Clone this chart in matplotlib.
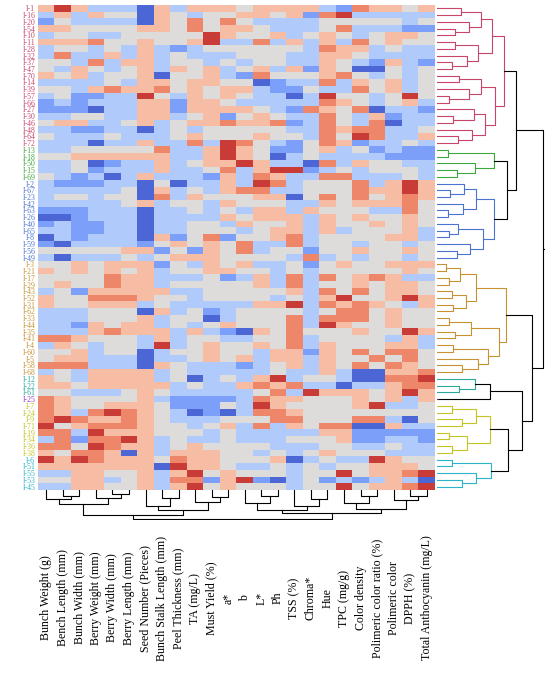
import numpy as np
import matplotlib
matplotlib.use("Agg")
import matplotlib.pyplot as plt

# ---- data: row labels (in plotted order), clusters and columns ----
row_labels = ["I-1", "I-16", "I-20", "I-54", "I-10", "I-11", "I-28", "I-32", "I-37", "I-47",
              "I-70", "I-14", "I-39", "I-57", "I-66", "I-27", "I-30", "I-46", "I-48", "I-64",
              "I-72",
              "I-13", "I-18", "I-50", "I-15", "I-69",
              "I-2", "I-67", "I-23", "I-42", "I-63", "I-26", "I-40", "I-65", "I-8", "I-59",
              "I-56", "I-49",
              "I-3", "I-21", "I-17", "I-29", "I-43", "I-52", "I-31", "I-62", "I-33", "I-44",
              "I-35", "I-41", "I-4", "I-60", "I-5", "I-58", "I-68",
              "I-12", "I-22", "I-61",
              "I-25",
              "I-7", "I-24", "I-9", "I-71", "I-19", "I-34", "I-36", "I-38",
              "I-6", "I-51", "I-55", "I-53", "I-45"]
cluster_sizes = [21, 5, 12, 17, 3, 1, 8, 5]
cluster_colors = ["#c8466a", "#3fa63f", "#4a74d0", "#c89234", "#2aa89a", "#9a35c4", "#c4c424", "#2cb4c8"]

col_labels = ["Bunch Weight (g)", "Bench Length (mm)", "Bunch Width (mm)", "Berry Weight (mm)",
              "Berry Width (mm)", "Berry Length (mm)", "Seed Number (Pieces)",
              "Bunch Stalk Length (mm)", "Peel Thickness (mm)", "TA (mg/L)", "Must Yield (%)",
              "a*", "b", "L*", "Ph", "TSS (%)", "Chroma*", "Hue", "TPC (mg/g)", "Color density",
              "Polimeric color ratio (%)", "Polimeric color", "DPPH (%)", "Total Anthocyanin (mg/L)"]

# standardized values, 0 = deep blue ... 3 = neutral ... 6 = deep red
rows_coded = [
    "464222042444344442154434",  # I-1
    "242433043233443415622222",
    "132222043535322223333323",
    "443333443534432223522211",
    "233223333364334234323443",
    "444533433462252424253433",
    "233232421233333325442322",
    "252242423222333224432222",
    "332524423323233224321421",
    "324323424342342414300323",
    "434233403342153334532323",
    "222232443443301225243423",
    "332454453434421132253423",
    "231122632434322026332363",
    "121222441443222225432342",
    "111022441444432154350221",
    "223322442341343225324122",
    "344223423445445125325022",
    "221122023233333225455223",
    "322232223433343325365224",
    "222022422526532135412232",
    "223333352246431134231211",  # I-13
    "334444442246430232222111",
    "223012242344642205243322",
    "223122242235246612323332",
    "321202422214254225522232",
    "211122030224265233352464",  # I-2
    "222223042324552233354464",
    "233233052433344035353454",
    "222223423324333224344453",
    "111222022323244243332253",
    "001222022224344424343343",
    "121122022332433424334343",
    "221122022333234424233342",
    "021222041351334523333442",
    "102222134343522523323323",
    "333334413143523313343343",
    "202223234443333252323323",
    "334344413243422313433444",  # I-3
    "434343423344332323333343",
    "333354422231242525345422",
    "343354423333342523343443",
    "231444442233333425353443",
    "433555433233332324633464",
    "433444232222244625454324",
    "222333042312333323553433",
    "222333423302333525553433",
    "221434423234333526433433",
    "222454442421043533343364",
    "554333242332233523333242",
    "243233262343343524333442",
    "334233023343324414353553",
    "344222022343424424335353",
    "555222043222123424353543",
    "232444423222223224200445",
    "432444423023246233200556",  # I-12
    "443444442322454522022455",
    "332223432222235264443464",
    "543333421111254433343424",  # I-25
    "543344431113264333346223",  # I-7
    "542565432010255433333333",
    "565445432223335533355203",
    "634555433234252435500422",
    "552644433323222224411111",
    "251556423223222333411221",
    "553654423433332223322322",
    "435540424443323234333222",
    "646544435443334023226433",  # I-6
    "444444406443223232334443",
    "224433424634333233634456",
    "334423425514610231212420",
    "224433424634333233634456",
]
values = np.array([[int(c) - 3 for c in r] for r in rows_coded], dtype=float)
n_rows, n_cols = values.shape


def build(data, idx):
    """Balanced binary tree over a contiguous leaf run, keeping leaf order.
    Returns (position, height, list of segments)."""
    if len(idx) == 1:
        return idx[0] + 0.5, 0.0, []
    mid = len(idx) // 2
    a, b = idx[:mid], idx[mid:]
    pa, ha, sa = build(data, a)
    pb, hb, sb = build(data, b)
    d = np.linalg.norm(data[a].mean(axis=0) - data[b].mean(axis=0))
    h = max(ha, hb) + 0.4 + d
    segs = sa + sb + [(pa, ha, pb, hb, h)]
    return (pa + pb) / 2, h, segs


def join(data, na, nb):
    """Join two already built subtrees."""
    (pa, ha, sa, ia), (pb, hb, sb, ib) = na, nb
    d = np.linalg.norm(data[ia].mean(axis=0) - data[ib].mean(axis=0))
    h = max(ha, hb) + 0.6 + d
    return (pa + pb) / 2, h, sa + sb + [(pa, ha, pb, hb, h, "k")], ia + ib


# cluster subtrees
starts = np.cumsum([0] + cluster_sizes)
nodes = []
for k in range(len(cluster_sizes)):
    idx = list(range(starts[k], starts[k + 1]))
    p, h, s = build(values, idx)
    nodes.append((p, h, [seg + (cluster_colors[k],) for seg in s], idx))

g = lambda a, b: join(values, a, b)
top = g(g(nodes[0], g(nodes[1], nodes[2])),
        g(nodes[3], g(g(nodes[4], nodes[5]), g(nodes[6], nodes[7]))))

col_nodes = build(values.T, list(range(n_cols)))

# ---- figure ----
W, H = 554, 678
fig = plt.figure(figsize=(W / 100, H / 100), dpi=100)
ax = fig.add_axes([38 / W, 1 - 490 / H, 397 / W, 485 / H])
ax.imshow(values, cmap="coolwarm", vmin=-3.4, vmax=3.4, aspect="auto",
          extent=(0, n_cols, n_rows, 0), interpolation="nearest")
ax.set_xticks([])
ax.set_yticks(np.arange(n_rows) + 0.5)
ax.set_yticklabels(row_labels, fontsize=5.6, family="Liberation Serif")
for t, c in zip(ax.get_yticklabels(), np.repeat(cluster_colors, cluster_sizes)):
    t.set_color(c)
ax.tick_params(axis="y", length=0, pad=2)
for s in ax.spines.values():
    s.set_visible(False)

# row dendrogram on the right
axr = fig.add_axes([437 / W, 1 - 490 / H, 108 / W, 485 / H])
for pa, ha, pb, hb, h, c in top[2]:
    axr.plot([ha, h, h, hb], [pa, pa, pb, pb], color=c, lw=0.8)
axr.plot([top[1], top[1] * 1.02], [top[0], top[0]], color="k", lw=0.8)
axr.set_ylim(n_rows, 0)
axr.set_xlim(0, top[1] * 1.02)
axr.axis("off")
# short ticks between heatmap and dendrogram
for i, c in enumerate(np.repeat(cluster_colors, cluster_sizes)):
    axr.plot([0, top[1] * 0.01], [i + 0.5, i + 0.5], color=c, lw=0.5)

# column dendrogram below
axc = fig.add_axes([38 / W, 1 - 520 / H, 397 / W, 30 / H])
pc, hc, segs = col_nodes
for pa, ha, pb, hb, h in segs:
    axc.plot([pa, pa, pb, pb], [ha, h, h, hb], color="k", lw=0.8)
axc.plot([pc, pc], [hc, hc * 1.05], color="k", lw=0.8)
for j in range(n_cols):
    axc.plot([j + 0.5, j + 0.5], [0, hc * 0.08], color="k", lw=0.6)
axc.set_xlim(0, n_cols)
axc.set_ylim(hc * 1.05, 0)
axc.axis("off")

# column labels, rotated and centred on a common line
for j, lab in enumerate(col_labels):
    fig.text((38 + (j + 0.5) * 397 / n_cols) / W, 1 - 598 / H, lab, rotation=90,
             ha="center", va="center", fontsize=8.6, family="Liberation Serif")

fig.savefig("out.png", dpi=100)
